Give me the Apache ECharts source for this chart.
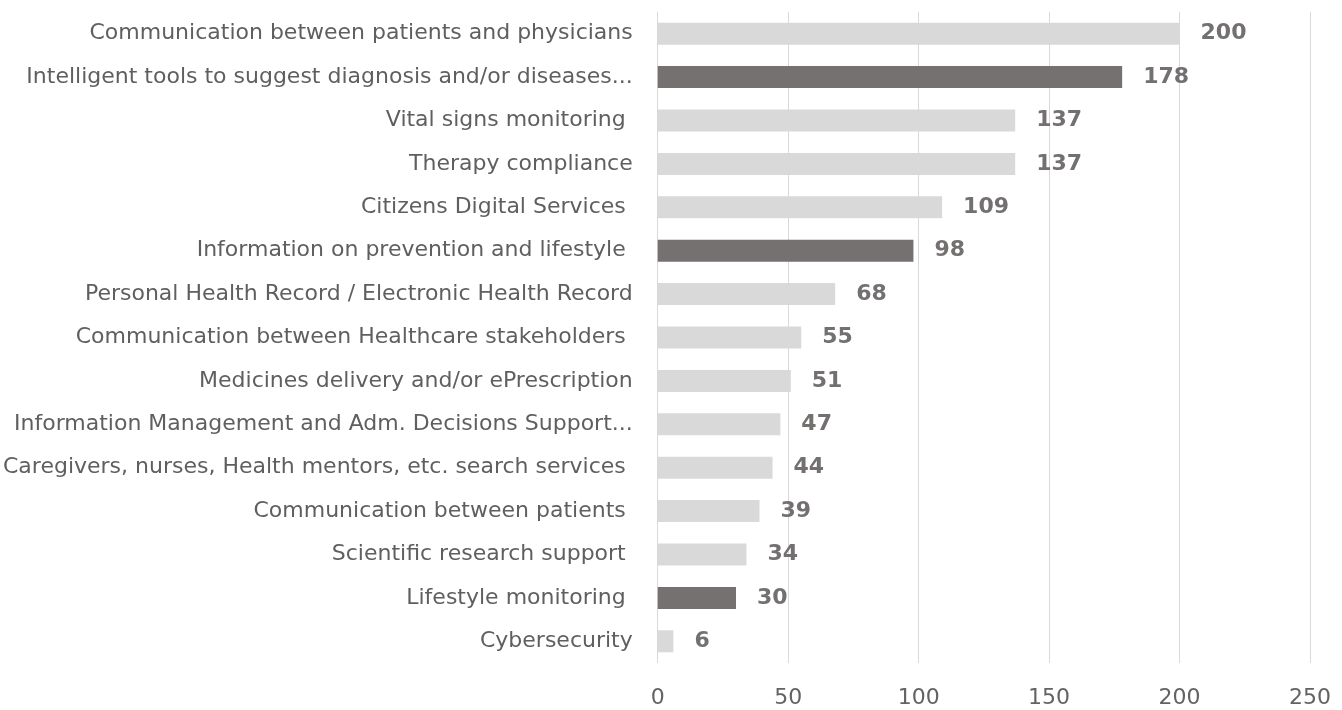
<!DOCTYPE html>
<html>
<head>
<meta charset="utf-8">
<script src="https://cdn.jsdelivr.net/npm/echarts@6/dist/echarts.min.js"></script>
<style>
  html, body { margin: 0; padding: 0; background: #fff; }
  #chart { width: 1342px; height: 710px; }
</style>
</head>
<body>
<div id="chart"></div>
<script>
// categories top to bottom, as in the picture (some keep a trailing space)
const categories = [
  'Communication between patients and physicians',
  'Intelligent tools to suggest diagnosis and/or diseases...',
  'Vital signs monitoring ',
  'Therapy compliance',
  'Citizens Digital Services ',
  'Information on prevention and lifestyle ',
  'Personal Health Record / Electronic Health Record',
  'Communication between Healthcare stakeholders ',
  'Medicines delivery and/or ePrescription',
  'Information Management and Adm. Decisions Support...',
  'Caregivers, nurses, Health mentors, etc. search services ',
  'Communication between patients ',
  'Scientific research support ',
  'Lifestyle monitoring ',
  'Cybersecurity'
]
const values = [200, 178, 137, 137, 109, 98, 68, 55, 51, 47, 44, 39, 34, 30, 6]
// which bars are highlighted in dark grey
const highlighted = [false, true, false, false, false, true, false, false, false, false, false, false, false, true, false]
const xTicks = [0, 50, 100, 150, 200, 250]

const LIGHT = '#d9d9d9'
const DARK = '#757171'
const FONT = '"DejaVu Sans", sans-serif'

const chart = echarts.init(document.getElementById('chart'))

chart.setOption({
  animation: false,
  grid: { left: 657, right: 32, top: 12, bottom: 47, containLabel: false },
  xAxis: {
    type: 'value',
    min: xTicks[0],
    max: xTicks[xTicks.length - 1],
    interval: 50,
    axisLine: { show: false },
    axisTick: { show: false },
    splitLine: { show: true, lineStyle: { color: '#d9d9d9', width: 1 } },
    axisLabel: { color: '#636363', fontSize: 22, fontFamily: FONT, margin: 24 }
  },
  yAxis: {
    type: 'category',
    inverse: true,
    data: categories,
    axisLine: { show: false },
    axisTick: { show: false },
    axisLabel: { color: '#5f5f5f', fontSize: 22, fontFamily: FONT, margin: 25 }
  },
  series: [
    {
      type: 'bar',
      barWidth: 22,
      data: values.map((v, i) => ({
        value: v,
        itemStyle: { color: highlighted[i] ? DARK : LIGHT }
      })),
      label: {
        show: true,
        position: 'right',
        distance: 21,
        color: '#747070',
        fontSize: 22,
        fontWeight: 'bold',
        fontFamily: FONT
      }
    }
  ]
})
</script>
</body>
</html>
